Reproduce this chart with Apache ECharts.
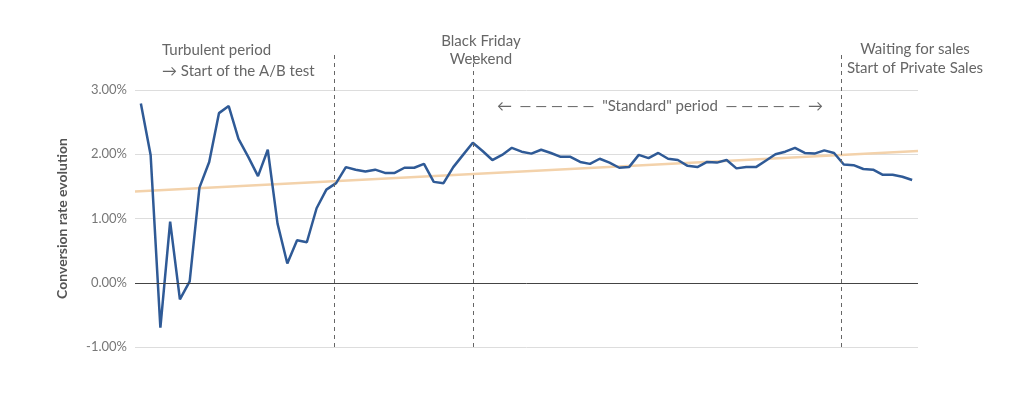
<!DOCTYPE html>
<html><head><meta charset="utf-8">
<script src="https://cdn.jsdelivr.net/npm/echarts@6/dist/echarts.min.js"></script>
<style>html,body{margin:0;padding:0;background:#fff}#c{width:1024px;height:415px}</style>
</head><body><div id="c"></div>
<script>
const rates = [2.79,1.99,-0.70,0.95,-0.26,0.02,1.48,1.88,2.64,2.75,2.24,1.96,1.66,2.07,0.92,0.30,0.66,0.63,1.16,1.45,
1.55,1.80,1.76,1.73,1.76,1.71,1.71,1.79,1.79,1.85,1.57,1.55,1.80,1.99,2.18,2.05,1.91,1.99,2.10,2.04,
2.01,2.07,2.02,1.96,1.96,1.88,1.85,1.93,1.87,1.79,1.80,1.99,1.94,2.02,1.93,1.91,1.82,1.80,1.88,1.87,
1.91,1.78,1.80,1.80,1.90,2.00,2.04,2.10,2.02,2.01,2.06,2.02,1.84,1.83,1.77,1.76,1.68,1.68,1.65,1.60];
const trendStart = [-0.6, 1.42];
const trendEnd = [79.6, 2.05];
const eventPositions = [19.8, 34, 71.7];
const yTicks = [-1, 0, 1, 2, 3];
const font = 'Lato';
const chart = echarts.init(document.getElementById('c'));
const xBase = {type:'value', min:-0.6, max:79.6, show:false};
chart.setOption({
  animation:false,
  grid:[{left:135,right:106,top:90,bottom:68},{left:135,right:106,top:55,bottom:68}],
  xAxis:[Object.assign({gridIndex:0},xBase),Object.assign({gridIndex:1},xBase)],
  yAxis:[{type:'value',gridIndex:0,min:yTicks[0],max:yTicks[yTicks.length-1],interval:1,
    name:'Conversion rate evolution',nameLocation:'middle',nameGap:66,
    nameTextStyle:{fontFamily:font,fontSize:14,fontWeight:'bold',color:'#555'},
    axisLine:{show:false},axisTick:{show:false},
    axisLabel:{formatter:v=>v.toFixed(2)+'%',color:'#777',fontFamily:font,fontSize:13,margin:8},
    splitLine:{lineStyle:{color:'#ddd'}}},
    {type:'value',gridIndex:1,min:0,max:1,show:false}],
  series:[
    {type:'line',xAxisIndex:0,yAxisIndex:0,data:[trendStart,trendEnd],symbol:'none',
     lineStyle:{color:'#f3d2ab',width:2.5},silent:true,
     markLine:{silent:true,symbol:'none',label:{show:false},lineStyle:{color:'#444',type:'solid',width:1},data:[{yAxis:0}]}},
    {type:'line',xAxisIndex:0,yAxisIndex:0,data:rates.map((v,i)=>[i,v]),symbol:'none',
     lineStyle:{color:'#2f5a96',width:2.5}},
    {type:'line',xAxisIndex:1,yAxisIndex:1,data:[],symbol:'none',
     markLine:{silent:true,symbol:'none',label:{show:false},lineStyle:{color:'#666',type:[4,4],width:1},
       data:eventPositions.map(x=>({xAxis:x}))}}
  ],
  graphic:[
    {type:'text',x:162,y:40,style:{text:'Turbulent period\n→ Start of the A/B test',fill:'#666',font:'15px '+font,lineHeight:21}},
    {type:'text',x:481,y:32,style:{text:'Black Friday\nWeekend',fill:'#666',font:'15px '+font,lineHeight:18,align:'center'}},
    {type:'text',x:915,y:40,style:{text:'Waiting for sales\nStart of Private Sales',fill:'#666',font:'15px '+font,lineHeight:19,align:'center'}},
    {type:'text',x:660,y:99,style:{text:'←  — — — — —  "Standard" period  — — — — —  →',fill:'#666',font:'15px '+font,align:'center'}}
  ]
});
</script></body></html>
